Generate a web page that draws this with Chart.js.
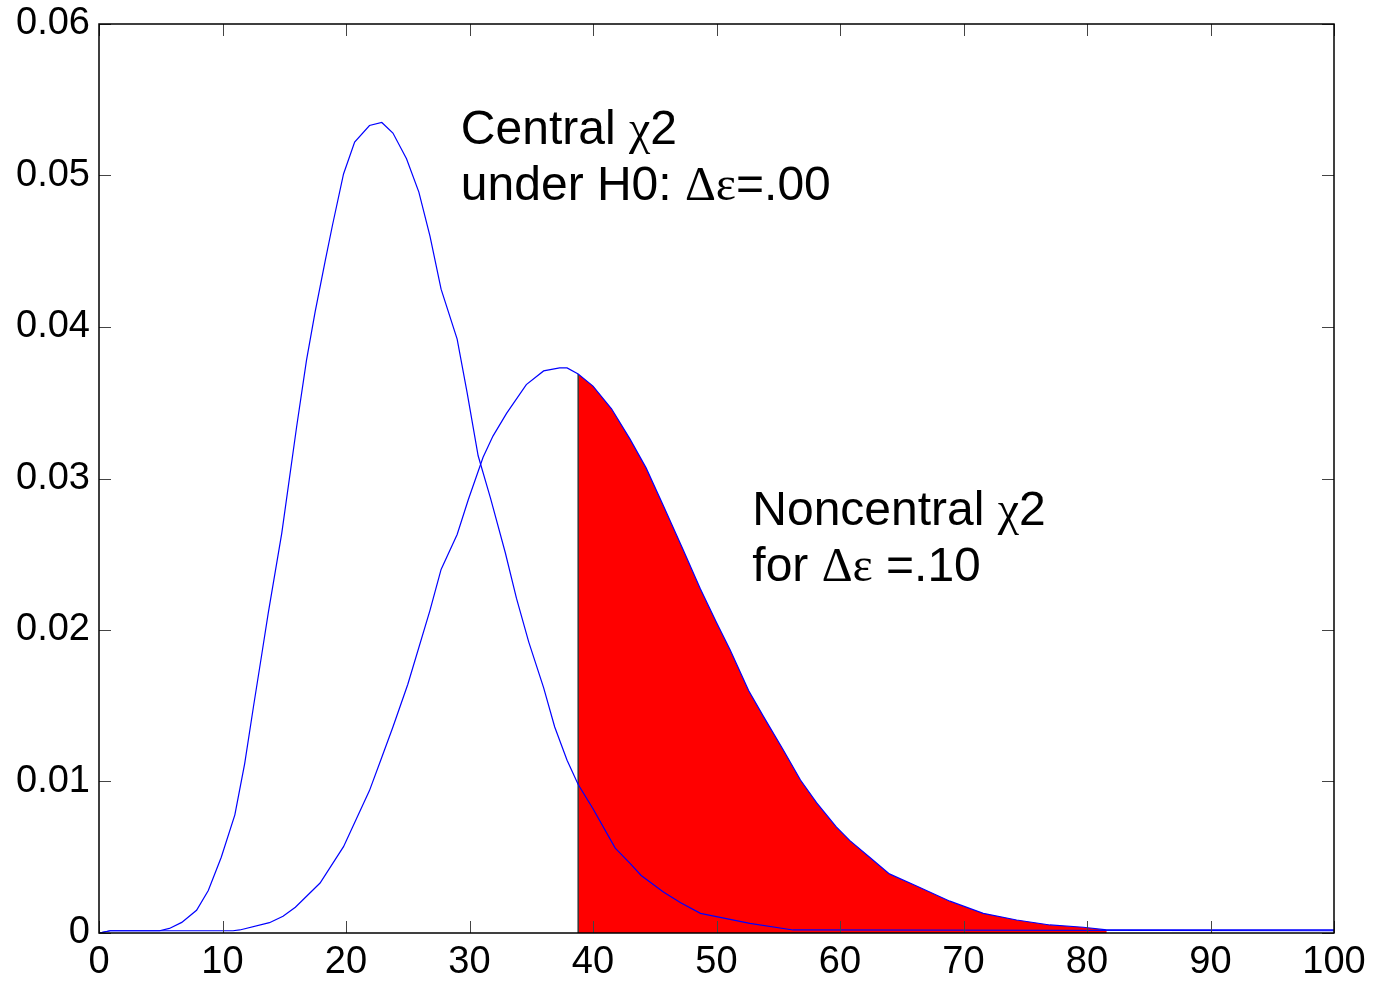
<!DOCTYPE html>
<html>
<head>
<meta charset="utf-8">
<script src="https://cdn.jsdelivr.net/npm/chart.js@4"></script>
<style>
  html, body { margin: 0; padding: 0; background: #fff; }
</style>
</head>
<body>
<canvas id="chart" width="1377" height="982"></canvas>
<script>
// values
const centralX = [0, 0.9, 4.9, 5.7, 6.7, 7.9, 8.85, 9.9, 11.0, 11.8, 12.5, 13.2, 13.7, 14.8, 16.0, 16.8, 17.5, 18.3, 18.9, 19.8, 20.7, 21.9, 22.9, 23.8, 24.9, 25.9, 26.8, 27.7, 29.0, 29.8, 30.7, 31.7, 32.9, 33.8, 34.8, 36.0, 36.9, 37.9, 38.8, 40.0, 41.8, 43.0, 43.9, 45.7, 47.1, 48.7, 52.7, 56.2, 100];
const centralY = [0, 0.00015, 0.00015, 0.0003, 0.0007, 0.0015, 0.0028, 0.005, 0.0078, 0.0112, 0.0149, 0.0185, 0.0211, 0.0264, 0.0334, 0.0378, 0.041, 0.0443, 0.0467, 0.0501, 0.0522, 0.0533, 0.0535, 0.0528, 0.0511, 0.0489, 0.046, 0.0425, 0.0392, 0.0357, 0.0315, 0.0287, 0.0251, 0.0221, 0.0192, 0.0162, 0.0136, 0.0114, 0.0098, 0.0082, 0.0056, 0.0046, 0.0038, 0.0027, 0.002, 0.0013, 0.00064, 0.0002, 0.00015];

const noncentralX = [0, 0.9, 10.85, 11.4, 13.8, 14.9, 15.9, 17.9, 19.8, 21.9, 22.9, 23.8, 25.0, 26.8, 27.7, 29.0, 29.9, 31.1, 31.9, 33.0, 34.6, 36.0, 37.3, 37.9, 38.8, 40.0, 41.5, 43.0, 44.3, 45.7, 47.3, 48.7, 50.0, 51.1, 52.6, 53.8, 55.4, 56.8, 58.1, 59.7, 60.8, 62.4, 64.0, 66.2, 68.9, 71.6, 74.3, 77.0, 79.7, 81.6, 100];
const noncentralY = [0, 0.00015, 0.00015, 0.0002, 0.00068, 0.0011, 0.0017, 0.0033, 0.0057, 0.0094, 0.0116, 0.0136, 0.0164, 0.0213, 0.024, 0.0263, 0.0286, 0.0314, 0.0328, 0.0343, 0.0362, 0.0371, 0.0373, 0.0373, 0.0369, 0.0361, 0.0346, 0.0326, 0.0307, 0.0282, 0.0253, 0.0227, 0.0205, 0.0187, 0.016, 0.0143, 0.0121, 0.0101, 0.0086, 0.007, 0.0061, 0.005, 0.0039, 0.0031, 0.0021, 0.0013, 0.00086, 0.00053, 0.00038, 0.0002, 0.0002];

// critical value and end of the shaded tail
const critical = 38.8;
const tailEnd = 81.6;

const xTicks = [0, 10, 20, 30, 40, 50, 60, 70, 80, 90, 100];
const yTicks = [0, 0.01, 0.02, 0.03, 0.04, 0.05, 0.06];

const toPoints = (xs, ys) => xs.map((x, i) => ({ x: x, y: ys[i] }));

const central = toPoints(centralX, centralY);
const noncentral = toPoints(noncentralX, noncentralY);
const tail = [{ x: critical, y: 0 }].concat(noncentral.filter(p => p.x >= critical && p.x <= tailEnd));
const critTop = noncentral.find(p => p.x === critical);

const sans = '"Liberation Sans", Arial, sans-serif';
const serif = '"Liberation Serif", "Times New Roman", serif';

// text notes: [x, y] in data units, each line is a list of [text, useSerif]
const notes = [
  { x: 29.3, y: 0.0521, lines: [
    [['Central ', 0], ['\u03C7', 1], ['2', 0]],
    [['under H0: ', 0], ['\u0394\u03B5', 1], ['=.00', 0]]
  ] },
  { x: 52.9, y: 0.0269, lines: [
    [['Noncentral ', 0], ['\u03C7', 1], ['2', 0]],
    [['for ', 0], ['\u0394\u03B5', 1], [' =.10', 0]]
  ] }
];

const boxPlugin = {
  id: 'box',
  afterDatasetsDraw(chart) {
    const { ctx, chartArea: a, scales } = chart;
    const len = 12;
    ctx.save();
    ctx.strokeStyle = '#444';
    ctx.lineWidth = 1;
    xTicks.forEach(v => {
      const px = Math.round(scales.x.getPixelForValue(v)) + 0.5;
      ctx.beginPath();
      ctx.moveTo(px, a.bottom); ctx.lineTo(px, a.bottom - len);
      ctx.moveTo(px, a.top); ctx.lineTo(px, a.top + len);
      ctx.stroke();
    });
    yTicks.forEach(v => {
      const py = Math.round(scales.y.getPixelForValue(v)) + 0.5;
      ctx.beginPath();
      ctx.moveTo(a.left, py); ctx.lineTo(a.left + len, py);
      ctx.moveTo(a.right, py); ctx.lineTo(a.right - len, py);
      ctx.stroke();
    });
    ctx.strokeStyle = '#000';
    ctx.lineWidth = 1.5;
    ctx.strokeRect(a.left, a.top, a.right - a.left, a.bottom - a.top);

    ctx.fillStyle = '#000';
    ctx.textBaseline = 'alphabetic';
    ctx.textAlign = 'left';
    notes.forEach(n => {
      const x0 = scales.x.getPixelForValue(n.x);
      let y0 = scales.y.getPixelForValue(n.y);
      n.lines.forEach(line => {
        let x = x0;
        line.forEach(([txt, s]) => {
          ctx.font = '48px ' + (s ? serif : sans);
          ctx.fillText(txt, x, y0);
          x += ctx.measureText(txt).width;
        });
        y0 += 56;
      });
    });
    ctx.restore();
  }
};

new Chart(document.getElementById('chart').getContext('2d'), {
  type: 'line',
  data: {
    datasets: [
      {
        label: 'Central',
        data: central,
        borderColor: '#0000ff',
        borderWidth: 1.2,
        pointRadius: 0,
        fill: false,
        order: 0
      },
      {
        label: 'Noncentral',
        data: noncentral,
        borderColor: '#0000ff',
        borderWidth: 1.2,
        pointRadius: 0,
        fill: false,
        order: 0
      },
      {
        label: 'Critical',
        data: [{ x: critical, y: 0 }, critTop],
        borderColor: '#333',
        borderWidth: 1.5,
        pointRadius: 0,
        fill: false,
        order: 1
      },
      {
        label: 'Power',
        data: tail,
        borderWidth: 0,
        borderColor: 'rgba(0,0,0,0)',
        backgroundColor: '#ff0000',
        pointRadius: 0,
        fill: 'origin',
        order: 2
      }
    ]
  },
  options: {
    responsive: false,
    animation: false,
    devicePixelRatio: 1,
    layout: { padding: { left: 0, top: 24, right: 43, bottom: 0 } },
    plugins: { legend: { display: false }, tooltip: { enabled: false } },
    scales: {
      x: {
        type: 'linear',
        min: 0,
        max: 100,
        afterBuildTicks: s => { s.ticks = xTicks.map(v => ({ value: v })); },
        afterFit: s => { s.height = 49; s.paddingLeft = 0; s.paddingRight = 0; },
        grid: { display: false, drawTicks: false },
        border: { display: false },
        ticks: {
          padding: 7,
          color: '#000',
          maxRotation: 0,
          autoSkip: false,
          font: { family: sans, size: 38 },
          callback: v => String(v)
        }
      },
      y: {
        type: 'linear',
        min: 0,
        max: 0.06,
        afterBuildTicks: s => { s.ticks = yTicks.map(v => ({ value: v })); },
        afterFit: s => { s.width = 99; s.paddingTop = 0; s.paddingBottom = 0; },
        grid: { display: false, drawTicks: false },
        border: { display: false },
        ticks: {
          padding: 9,
          color: '#000',
          autoSkip: false,
          font: { family: sans, size: 38 },
          callback: v => v === 0 ? '0' : v.toFixed(2)
        }
      }
    }
  },
  plugins: [boxPlugin]
});
</script>
</body>
</html>
